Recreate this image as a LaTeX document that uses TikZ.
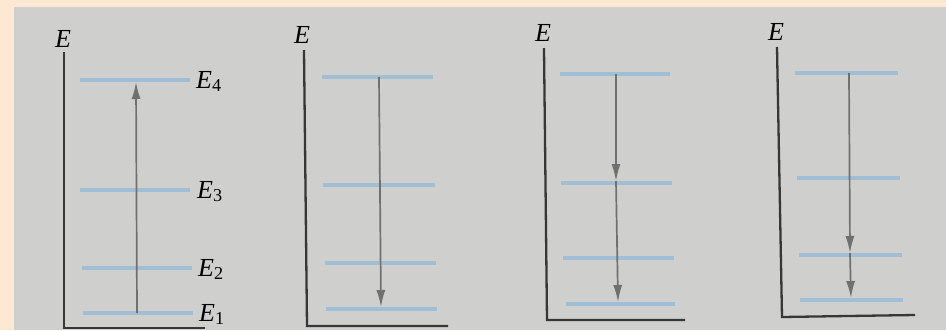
\documentclass[tikz,border=0pt]{standalone}
\usepackage{fontspec}
\setmainfont{Liberation Serif}
\usetikzlibrary{arrows.meta,positioning}
\definecolor{scanpeach}{RGB}{253,233,211}
\definecolor{scangray}{RGB}{207,207,205}
\definecolor{levelblue}{RGB}{160,190,212}
\definecolor{axisdark}{RGB}{55,55,55}
\definecolor{arrowgray}{RGB}{112,112,112}
\tikzset{
  axisline/.style={draw=axisdark, line width=2.3pt},
  levelline/.style={draw=levelblue, line width=3.6pt},
  transition/.style={
    draw=arrowgray, line width=1.7pt,
    -{Latex[length=17pt,width=9pt]}
  },
  axislabel/.style={
    font=\fontsize{26}{28}\selectfont\itshape, inner sep=0pt
  },
  levellabel/.style={
    font=\fontsize{26}{28}\selectfont,
    anchor=base west, inner sep=0pt
  },
}

\begin{document}
\begin{tikzpicture}[x=1pt,y=-1pt]

%% ── Scanned page background ──────────────────────────────────────────────
\fill[scanpeach] (0,0) rectangle (946,330);
\fill[scangray] (14,7) rectangle (946,330);
\useasboundingbox (0,0) rectangle (946,330);

%% ── Diagram 1: absorption E1 -> E4 ───────────────────────────────────────
\node[axislabel] (axisA) at (63,39) {E};
\draw[axisline] (64,52) -- (64,328) -- (205,328);
\draw[levelline] (80,80) -- (190,80);
\draw[levelline] (80,190) -- (190,190);
\draw[levelline] (82,268) -- (192,268);
\draw[levelline] (83,313) -- (193,313);
\node[levellabel] (lvlA4) at (196,88) {\textit{E}\textsubscript{4}};
\node[levellabel] (lvlA3) at (197,198) {\textit{E}\textsubscript{3}};
\node[levellabel] (lvlA2) at (198,276) {\textit{E}\textsubscript{2}};
\node[levellabel] (lvlA1) at (199,321) {\textit{E}\textsubscript{1}};
\coordinate (fromA) at (137,313);
\coordinate (toA) at (136,82);
\draw[transition] (fromA) -- (toA);

%% ── Diagram 2: direct emission E4 -> E1 ──────────────────────────────────
\node[axislabel] (axisB) at (302,35) {E};
\draw[axisline] (304,50) -- (307,326) -- (448,326);
\draw[levelline] (322,77) -- (433,77);
\draw[levelline] (323,185) -- (435,185);
\draw[levelline] (325,263) -- (436,263);
\draw[levelline] (326,309) -- (437,309);
\coordinate (fromB) at (379,77);
\coordinate (toB) at (381,307);
\draw[transition] (fromB) -- (toB);

%% ── Diagram 3: cascade E4 -> E3 -> E1 ────────────────────────────────────
\node[axislabel] (axisC) at (543,33) {E};
\draw[axisline] (544,48) -- (547,320) -- (685,320);
\draw[levelline] (560,74) -- (670,74);
\draw[levelline] (561,183) -- (672,183);
\draw[levelline] (563,258) -- (674,258);
\draw[levelline] (566,304) -- (675,304);
\coordinate (fromC) at (616,74);
\coordinate (midC) at (616,181);
\coordinate (toC) at (618,302);
\draw[transition] (fromC) -- (midC);
\draw[transition] (midC) -- (toC);

%% ── Diagram 4: cascade E4 -> E2 -> E1 ────────────────────────────────────
\node[axislabel] (axisD) at (776,32) {E};
\draw[axisline] (777,47) -- (782,317) -- (915,315);
\draw[levelline] (795,73) -- (898,73);
\draw[levelline] (797,178) -- (900,178);
\draw[levelline] (799,255) -- (902,255);
\draw[levelline] (800,300) -- (903,300);
\coordinate (fromD) at (849,73);
\coordinate (midD) at (850,253);
\coordinate (toD) at (851,298);
\draw[transition] (fromD) -- (midD);
\draw[transition] (midD) -- (toD);

\end{tikzpicture}
\end{document}
